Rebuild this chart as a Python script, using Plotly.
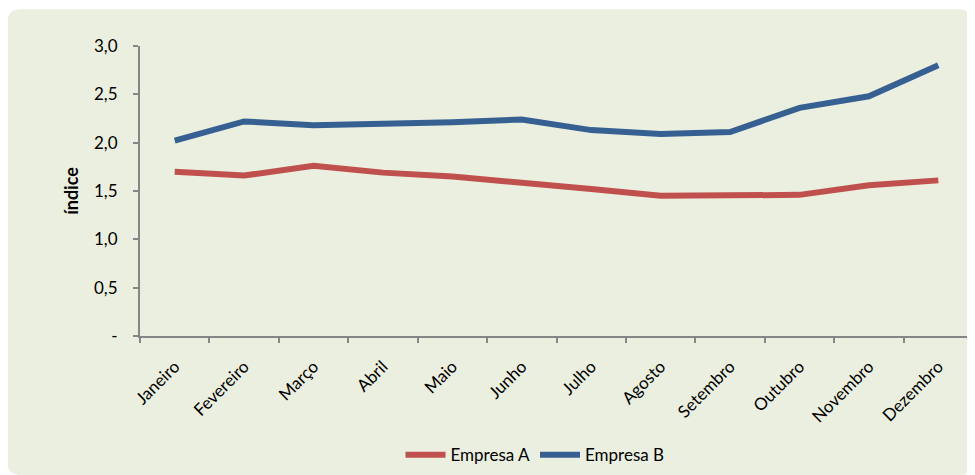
import plotly.graph_objects as go

meses = ["Janeiro", "Fevereiro", "Março", "Abril", "Maio", "Junho",
         "Julho", "Agosto", "Setembro", "Outubro", "Novembro", "Dezembro"]
empresa_a = [1.70, 1.66, 1.76, 1.69, 1.65, 1.59, 1.52, 1.45, 1.45, 1.46, 1.56, 1.61]
empresa_b = [2.02, 2.22, 2.18, 2.19, 2.21, 2.24, 2.13, 2.09, 2.11, 2.36, 2.48, 2.80]
y_tickvals = [0, 0.5, 1.0, 1.5, 2.0, 2.5, 3.0]
y_ticktext = ["-", "0,5", "1,0", "1,5", "2,0", "2,5", "3,0"]

OFF = 8  # page body margin
W, H = 975 - OFF, 475 - OFF
L, R, T, B = 140 - OFF, 2, 46 - OFF, 137
pw, ph = W - L - R, H - T - B

def px(x):  # x in screenshot pixels -> paper
    return (x - OFF - L) / pw

def py(y):  # y in screenshot pixels -> paper
    return (H - B - (y - OFF)) / ph

FONT = "Lato"
BG = "#EBEFDF"

fig = go.Figure()
fig.add_trace(go.Scatter(x=meses, y=empresa_a, name="Empresa A", mode="lines",
                         line=dict(color="#C0504D", width=6)))
fig.add_trace(go.Scatter(x=meses, y=empresa_b, name="Empresa B", mode="lines",
                         line=dict(color="#376092", width=6)))

# rounded background panel
x0, x1, y0, y1, r = 7, 973, 9, 478, 14
path = (f"M {px(x0 + r)},{py(y0)} L {px(x1 - r)},{py(y0)} "
        f"Q {px(x1)},{py(y0)} {px(x1)},{py(y0 + r)} "
        f"L {px(x1)},{py(y1 - r)} Q {px(x1)},{py(y1)} {px(x1 - r)},{py(y1)} "
        f"L {px(x0 + r)},{py(y1)} Q {px(x0)},{py(y1)} {px(x0)},{py(y1 - r)} "
        f"L {px(x0)},{py(y0 + r)} Q {px(x0)},{py(y0)} {px(x0 + r)},{py(y0)} Z")
fig.add_shape(type="path", path=path, xref="paper", yref="paper",
              fillcolor=BG, line=dict(width=0), layer="below")

fig.update_layout(
    width=W, height=H,
    margin=dict(l=L, r=R, t=T, b=B),
    paper_bgcolor="white", plot_bgcolor="rgba(0,0,0,0)",
    font=dict(family=FONT, size=17, color="#000000"),
    showlegend=True,
    legend=dict(orientation="h", x=px(535), y=py(458), xanchor="center", yanchor="middle",
                bgcolor="rgba(0,0,0,0)", font=dict(family=FONT, size=17),
                itemwidth=40, tracegroupgap=0),
    xaxis=dict(type="category", range=[-0.5, 11.5], showgrid=False,
               showline=True, linecolor="#868686", linewidth=2,
               ticks="outside", ticklen=5, tickcolor="#868686", tickwidth=1.5,
               tickson="boundaries", tickangle=-45, ticklabelstandoff=12,
               tickfont=dict(family=FONT, size=17)),
    yaxis=dict(range=[0, 3], showgrid=False, zeroline=False,
               showline=True, linecolor="#868686", linewidth=2,
               ticks="outside", ticklen=5, tickcolor="#868686", tickwidth=1.5,
               tickvals=y_tickvals, ticktext=y_ticktext,
               ticklabelstandoff=12,
               tickfont=dict(family=FONT, size=17),
               title=dict(text="<b>índice</b>", font=dict(family=FONT, size=18), standoff=11)),
)

fig.write_html("out.html")
